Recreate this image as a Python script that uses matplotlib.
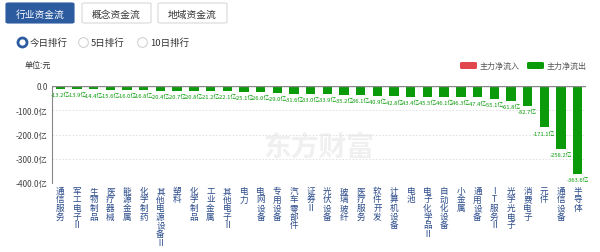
import matplotlib.pyplot as plt
from matplotlib.patches import FancyBboxPatch
from matplotlib.lines import Line2D

plt.rcParams['font.family'] = ['Noto Sans CJK SC', 'DejaVu Sans']

categories = ['通信服务', '军工电子Ⅱ', '生物制品', '医疗器械', '能源金属', '化学制药',
              '其他电源设备Ⅱ', '塑料', '化学制品', '工业金属', '其他电子Ⅱ', '电力',
              '电网设备', '专用设备', '汽车零部件', '证券Ⅱ', '光伏设备', '玻璃玻纤',
              '医疗服务', '软件开发', '计算机设备', '电池', '电子化学品Ⅱ', '自动化设备',
              '小金属', '通用设备', 'IT服务Ⅱ', '光学光电子', '消费电子', '元件',
              '通信设备', '半导体']
values = [-13.2, -13.9, -14.4, -15.6, -16.0, -16.8, -20.4, -20.7, -20.8, -21.2,
          -22.1, -25.1, -26.0, -29.0, -31.6, -33.0, -33.9, -35.2, -36.1, -40.9,
          -42.8, -43.4, -45.5, -46.1, -46.3, -47.4, -55.1, -61.8, -82.7, -171.1,
          -258.2, -363.6]
y_ticks = [0, -100, -200, -300, -400]
tabs = ['行业资金流', '概念资金流', '地域资金流']
ranks = ['今日排行', '5日排行', '10日排行']

W, H = 600, 253
GREEN = '#0a9a0a'
RED = '#e0464c'
BLUE = '#2d5b9f'


def fx(x):
    return x / W


def fy(y):
    return 1 - y / H


fig = plt.figure(figsize=(6, 2.53), dpi=100)

# ------------------------------------------------
# HEADER (tabs, radio buttons)
# ------------------------------------------------
tab_x = [(6, 74), (82, 151), (158, 227)]
for i, (name, (x0, x1)) in enumerate(zip(tabs, tab_x)):
    sel = i == 0
    fig.patches.append(FancyBboxPatch(
        (fx(x0), fy(24)), fx(x1 - x0), 20 / H,
        boxstyle='round,pad=0,rounding_size=0.004',
        transform=fig.transFigure,
        facecolor=BLUE if sel else 'white',
        edgecolor=BLUE if sel else '#d9d9d9', linewidth=0.8))
    fig.text(fx((x0 + x1) / 2), fy(14.5), name, ha='center', va='center',
             fontsize=7, color='white' if sel else '#333333')

radio_x = [(22, 30), (83, 91), (142, 150)]
for i, (name, (cx, tx)) in enumerate(zip(ranks, radio_x)):
    sel = i == 0
    fig.add_artist(Line2D([fx(cx)], [fy(43)], transform=fig.transFigure,
                          marker='o', markersize=6.5 if sel else 7,
                          markerfacecolor='white',
                          markeredgecolor=BLUE if sel else '#cccccc',
                          markeredgewidth=2.0 if sel else 0.7))
    fig.text(fx(tx), fy(43), name, ha='left', va='center',
             fontsize=6.8, color='#333333')

fig.text(fx(25), fy(65), '单位:元', ha='left', va='center',
         fontsize=5.8, color='#333333')

# legend
for (x0, label, col) in [(460, '主力净流入', RED), (527, '主力净流出', GREEN)]:
    fig.patches.append(FancyBboxPatch(
        (fx(x0), fy(70)), fx(17), 7 / H,
        boxstyle='round,pad=0,rounding_size=0.004',
        transform=fig.transFigure, facecolor=col, edgecolor='none'))
    fig.text(fx(x0 + 20), fy(66.5), label, ha='left', va='center',
             fontsize=5.8, color='#555555')

# ------------------------------------------------
# CHART
# ------------------------------------------------
ax = fig.add_axes([fx(52), fy(184), fx(586 - 52), 97 / H])

x = range(len(categories))
ax.bar(x, values, width=0.56, color=GREEN, zorder=3)

for i, v in enumerate(values):
    ax.annotate(f'{v:.1f}亿', (i, v), xytext=(0, -2),
                textcoords='offset points', ha='center', va='top',
                fontsize=4.2, color=GREEN, zorder=4)

ax.set_xlim(-0.5, len(categories) - 0.5)
ax.set_ylim(-400, 0)
ax.set_yticks(y_ticks)
ax.set_yticklabels(['0.0'] + [f'{t:.1f}亿' for t in y_ticks[1:]],
                   fontsize=6, color='#444444')
ax.set_xticks(list(x))
ax.set_xticklabels(['\n'.join(c) for c in categories], fontsize=6.2,
                   color='#2a4a8a', linespacing=0.95, va='top')
ax.tick_params(axis='x', length=0, pad=2)
ax.tick_params(axis='y', length=0, pad=3)

for t in y_ticks[1:4]:
    ax.axhline(t, color='#dddddd', linestyle=(0, (2, 2)), linewidth=0.6, zorder=1)
ax.axhline(0, color='#888888', linewidth=1.0, zorder=5)

for s in ['top', 'right', 'bottom']:
    ax.spines[s].set_visible(False)
ax.spines['left'].set_color('#888888')
ax.spines['left'].set_linewidth(0.8)

# watermark
ax.text(0.5, 0.38, '东方财富', transform=ax.transAxes, ha='center', va='center',
        fontsize=20, color='#f0f0f0', fontweight='bold', zorder=0)

fig.savefig('out.png', dpi=100)
